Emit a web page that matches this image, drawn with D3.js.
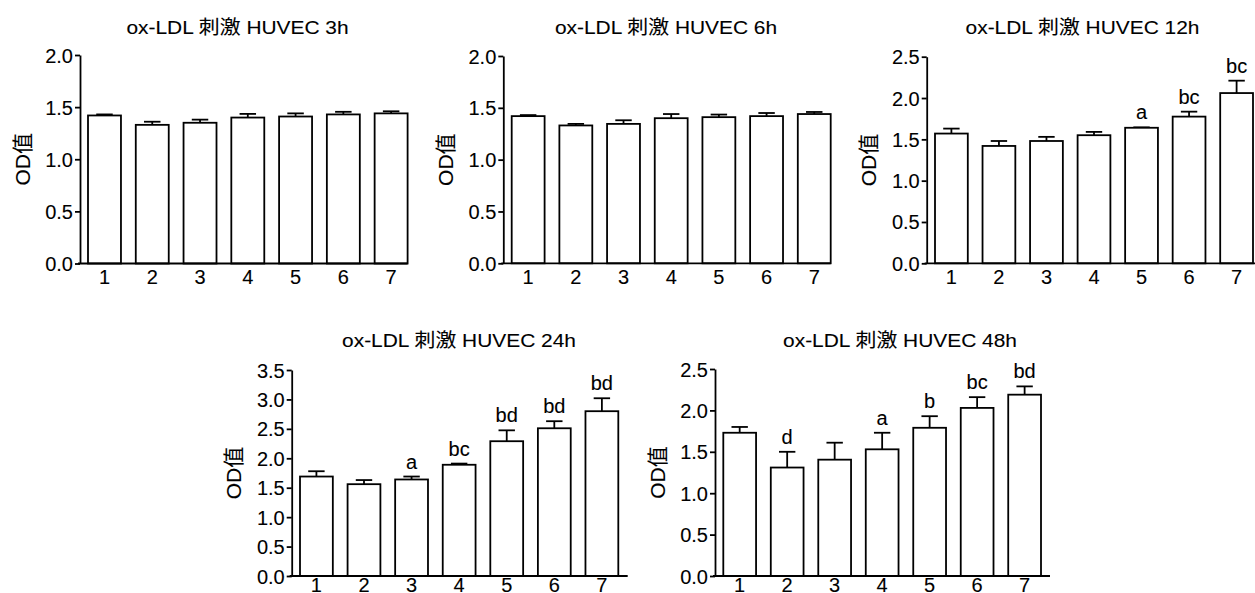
<!DOCTYPE html>
<html>
<head>
<meta charset="utf-8">
<script src="https://cdn.jsdelivr.net/npm/d3@7"></script>
<style>
  body { margin: 0; background: #fff; }
  svg text { font-family: "Liberation Sans", Arial, "Noto Sans CJK SC", sans-serif; fill: #000; stroke: #000; stroke-width: 0.1px; }
</style>
</head>
<body>
<div id="chart"></div>
<script>
var groups = ["1", "2", "3", "4", "5", "6", "7"];

var titles = ["ox-LDL 刺激 HUVEC 3h", "ox-LDL 刺激 HUVEC 6h", "ox-LDL 刺激 HUVEC 12h",
              "ox-LDL 刺激 HUVEC 24h", "ox-LDL 刺激 HUVEC 48h"];
var yLabel = "OD值";

var od3h  = [1.42, 1.33, 1.35, 1.40, 1.41, 1.43, 1.44];
var se3h  = [0.01, 0.03, 0.03, 0.035, 0.03, 0.025, 0.02];
var od6h  = [1.42, 1.33, 1.345, 1.40, 1.41, 1.42, 1.44];
var se6h  = [0.01, 0.015, 0.035, 0.04, 0.025, 0.03, 0.02];
var od12h = [1.57, 1.42, 1.48, 1.55, 1.64, 1.775, 2.06];
var se12h = [0.06, 0.06, 0.05, 0.04, 0.005, 0.06, 0.15];
var od24h = [1.69, 1.56, 1.64, 1.89, 2.29, 2.51, 2.80];
var se24h = [0.09, 0.07, 0.05, 0.02, 0.185, 0.12, 0.22];
var od48h = [1.73, 1.31, 1.405, 1.53, 1.79, 2.03, 2.19];
var se48h = [0.07, 0.19, 0.205, 0.20, 0.14, 0.13, 0.10];

var sig12h = ["", "", "", "", "a", "bc", "bc"];
var sig24h = ["", "", "a", "bc", "bd", "bd", "bd"];
var sig48h = ["", "d", "", "a", "b", "bc", "bd"];
var noSig  = ["", "", "", "", "", "", ""];

var yMax3h = 2.0, yMax6h = 2.0, yMax12h = 2.5, yMax24h = 3.5, yMax48h = 2.5;

var width = 1255, height = 593;
var fs = 20;
var lw = 1.8;

var svg = d3.select("#chart").append("svg")
    .attr("width", width)
    .attr("height", height);

// layout for each panel: axis x, first bar left, last bar right, axis end, y top, y bottom, title x/y
var panels = [
  { vals: od3h,  errs: se3h,  sig: noSig,  ymax: yMax3h,  title: titles[0], ax: 80,    bl: 88,    br: 407.6, ae: 407.6, yt: 55,   yb: 263.5, tx: 237.5, ty: 34 },
  { vals: od6h,  errs: se6h,  sig: noSig,  ymax: yMax6h,  title: titles[1], ax: 503.3, bl: 511.7, br: 830.7, ae: 830.7, yt: 56,   yb: 263.3, tx: 666,   ty: 34 },
  { vals: od12h, errs: se12h, sig: sig12h, ymax: yMax12h, title: titles[2], ax: 926.7, bl: 935,   br: 1253,  ae: 1255,  yt: 56.7, yb: 263.3, tx: 1082.5, ty: 34 },
  { vals: od24h, errs: se24h, sig: sig24h, ymax: yMax24h, title: titles[3], ax: 291.7, bl: 300,   br: 618.3, ae: 627.7, yt: 370,  yb: 576,   tx: 459,   ty: 347 },
  { vals: od48h, errs: se48h, sig: sig48h, ymax: yMax48h, title: titles[4], ax: 715,   bl: 723.3, br: 1041,  ae: 1050,  yt: 369,  yb: 576,   tx: 900,   ty: 347 }
];

panels.forEach(drawPanel);

function drawPanel(p) {
  var g = svg.append("g");

  var x = d3.scaleBand()
      .domain(groups)
      .range([p.bl, p.br])
      .paddingInner(0.31)
      .paddingOuter(0);

  var y = d3.scaleLinear()
      .domain([0, p.ymax])
      .range([p.yb, p.yt]);

  var data = groups.map(function(k, i) {
    return { key: k, v: p.vals[i], e: p.errs[i], s: p.sig[i] };
  });

  // error bars (upper only)
  var eb = g.selectAll(".err").data(data).enter().append("g").attr("class", "err");
  eb.append("line")
      .attr("x1", function(d) { return x(d.key) + x.bandwidth() / 2; })
      .attr("x2", function(d) { return x(d.key) + x.bandwidth() / 2; })
      .attr("y1", function(d) { return y(d.v); })
      .attr("y2", function(d) { return y(d.v + d.e); })
      .attr("stroke", "#000").attr("stroke-width", lw);
  eb.append("line")
      .attr("x1", function(d) { return x(d.key) + x.bandwidth() / 4; })
      .attr("x2", function(d) { return x(d.key) + x.bandwidth() * 3 / 4; })
      .attr("y1", function(d) { return y(d.v + d.e); })
      .attr("y2", function(d) { return y(d.v + d.e); })
      .attr("stroke", "#000").attr("stroke-width", lw);

  g.selectAll(".bar").data(data).enter().append("rect")
      .attr("class", "bar")
      .attr("x", function(d) { return x(d.key); })
      .attr("y", function(d) { return y(d.v); })
      .attr("width", x.bandwidth())
      .attr("height", function(d) { return y(0) - y(d.v); })
      .attr("fill", "#fff")
      .attr("stroke", "#000")
      .attr("stroke-width", lw);

  // significance letters
  g.selectAll(".sig").data(data.filter(function(d) { return d.s; })).enter().append("text")
      .attr("class", "sig")
      .attr("x", function(d) { return x(d.key) + x.bandwidth() / 2; })
      .attr("y", function(d) { return y(d.v + d.e) - 8; })
      .attr("text-anchor", "middle")
      .style("font-size", fs + "px")
      .text(function(d) { return d.s; });

  // y axis
  var ticks = d3.range(0, p.ymax + 0.001, 0.5);
  var ya = g.append("g")
      .attr("transform", "translate(" + p.ax + ",0)")
      .call(d3.axisLeft(y).tickValues(ticks).tickSize(5).tickSizeOuter(0).tickPadding(2)
            .tickFormat(d3.format(".1f")));
  ya.select(".domain").attr("stroke-width", lw);
  ya.selectAll(".tick line").attr("stroke-width", lw);
  ya.selectAll(".tick text")
      .attr("dy", null)
      .attr("dominant-baseline", "central")
      .style("font-size", fs + "px")
      .attr("font-family", null);

  // x axis
  g.append("line")
      .attr("x1", p.ax - 2).attr("x2", p.ae)
      .attr("y1", p.yb).attr("y2", p.yb)
      .attr("stroke", "#000").attr("stroke-width", lw);
  var lblY = Math.min(p.yb + 20.5, height - 1);
  g.selectAll(".xl").data(groups).enter().append("text")
      .attr("class", "xl")
      .attr("x", function(d) { return x(d) + x.bandwidth() / 2; })
      .attr("y", lblY)
      .attr("text-anchor", "middle")
      .style("font-size", fs + "px")
      .text(function(d) { return d; });

  // y label
  g.append("text")
      .attr("transform", "translate(" + (p.ax - 58) + "," + ((p.yt + p.yb) / 2) + ") rotate(-90)")
      .attr("text-anchor", "middle")
      .attr("dominant-baseline", "central")
      .style("font-size", "21px")
      .text(yLabel);

  // title
  g.append("text")
      .attr("transform", "translate(" + p.tx + "," + p.ty + ") scale(1.1,1)")
      .attr("text-anchor", "middle")
      .style("font-size", "19px")
      .text(p.title);
}
</script>
</body>
</html>
